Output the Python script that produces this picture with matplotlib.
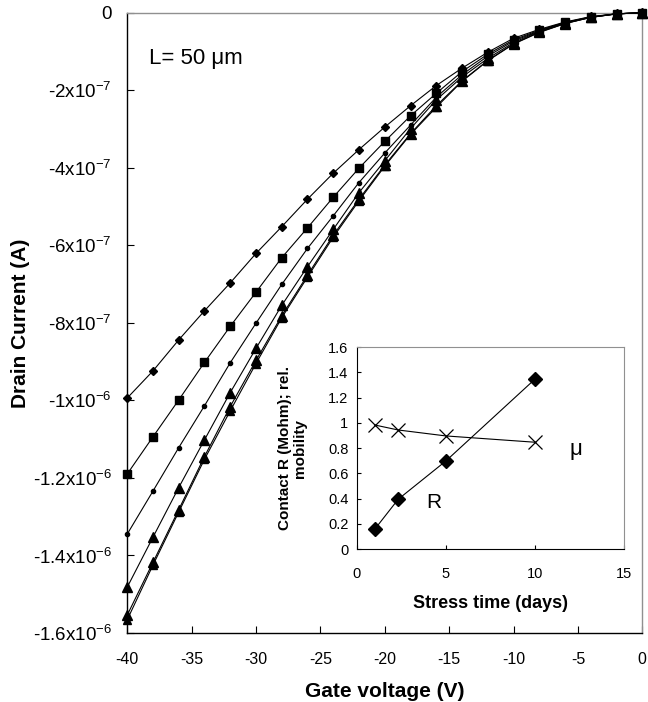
import matplotlib.pyplot as plt

plt.rcParams['font.family'] = ['Liberation Sans', 'DejaVu Sans']
plt.rcParams['mathtext.fontset'] = 'custom'
plt.rcParams['mathtext.rm'] = 'Liberation Sans'
plt.rcParams['mathtext.default'] = 'regular'
plt.rcParams['axes.unicode_minus'] = False

# gate voltage sweep, -40 V .. 0 V in 2 V steps
vg = [-40, -38, -36, -34, -32, -30, -28, -26, -24, -22, -20,
      -18, -16, -14, -12, -10, -8, -6, -4, -2, 0]

# drain current in units of 1e-6 A
id_diamond = [-0.994, -0.924, -0.844, -0.769, -0.697, -0.621, -0.552, -0.481, -0.414, -0.353, -0.295,
              -0.240, -0.188, -0.143, -0.102, -0.066, -0.043, -0.024, -0.010, -0.003, 0.0]
id_square = [-1.190, -1.094, -0.999, -0.902, -0.809, -0.721, -0.632, -0.555, -0.476, -0.401, -0.332,
             -0.266, -0.208, -0.152, -0.107, -0.070, -0.045, -0.025, -0.011, -0.003, 0.0]
id_dot = [-1.345, -1.234, -1.122, -1.014, -0.903, -0.801, -0.701, -0.608, -0.524, -0.438, -0.362,
          -0.290, -0.218, -0.160, -0.112, -0.073, -0.047, -0.026, -0.011, -0.003, 0.0]
id_tri1 = [-1.482, -1.353, -1.225, -1.102, -0.980, -0.866, -0.755, -0.655, -0.559, -0.464, -0.382,
           -0.299, -0.225, -0.166, -0.118, -0.077, -0.048, -0.027, -0.012, -0.003, 0.0]
id_tri2 = [-1.554, -1.418, -1.282, -1.145, -1.016, -0.897, -0.782, -0.677, -0.574, -0.481, -0.393,
           -0.312, -0.240, -0.176, -0.123, -0.080, -0.050, -0.028, -0.012, -0.003, 0.0]
id_tri3 = [-1.566, -1.425, -1.288, -1.152, -1.027, -0.905, -0.787, -0.682, -0.579, -0.485, -0.396,
           -0.314, -0.244, -0.177, -0.124, -0.081, -0.051, -0.028, -0.012, -0.003, 0.0]

# inset: contact resistance and relative mobility vs stress time
stress_days = [1, 2.33, 5, 10]
contact_r = [0.155, 0.395, 0.698, 1.347]
rel_mobility = [0.984, 0.944, 0.897, 0.847]

ytick_vals = [0, -2e-7, -4e-7, -6e-7, -8e-7, -1e-6, -1.2e-6, -1.4e-6, -1.6e-6]
ytick_labels = ['0', '-2x10$^{-7}$', '-4x10$^{-7}$', '-6x10$^{-7}$', '-8x10$^{-7}$',
                '-1x10$^{-6}$', '-1.2x10$^{-6}$', '-1.4x10$^{-6}$', '-1.6x10$^{-6}$']
xtick_vals = [-40, -35, -30, -25, -20, -15, -10, -5, 0]

fig = plt.figure(figsize=(6.48, 7.02), dpi=100)
ax = fig.add_axes([0.1963, 0.0983, 0.7949, 0.8836])

series = [(id_diamond, 'D', 4.5), (id_square, 's', 5.5), (id_dot, 'o', 3.0),
          (id_tri1, '^', 6.5), (id_tri2, '^', 6.5), (id_tri3, '^', 6.0)]
for vals, mk, ms in series:
    ax.plot(vg, [v * 1e-6 for v in vals], color='black', lw=0.8,
            marker=mk, ms=ms, mfc='black', mec='black', clip_on=False, zorder=3)

ax.set_xlim(-40, 0)
ax.set_ylim(-1.6e-6, 0)
ax.set_yticks(ytick_vals)
ax.set_yticklabels(ytick_labels, fontsize=13.5)
ax.set_xticks(xtick_vals)
ax.set_xticklabels([str(x) for x in xtick_vals], fontsize=11.5)
ax.tick_params(direction='in', length=5, width=0.8, color='black')
ax.tick_params(axis='x', pad=14)
ax.tick_params(axis='y', pad=11)
ax.spines['left'].set_color('black')
ax.spines['bottom'].set_color('black')
ax.spines['top'].set_color('#909090')
ax.spines['right'].set_color('#909090')
for s in ax.spines.values():
    s.set_linewidth(1.0)

ax.set_xlabel('Gate voltage (V)', fontsize=15, fontweight='bold', va='center')
ax.xaxis.set_label_coords(0.5, -0.095)
ax.set_ylabel('Drain Current (A)', fontsize=15, fontweight='bold', va='center')
ax.yaxis.set_label_coords(-0.208, 0.5)
ax.text(-38.3, -1.17e-7, 'L= 50 \u03bcm', fontsize=16, va='center')

# inset
ins = fig.add_axes([0.5505, 0.2179, 0.4125, 0.2874])
ins.plot(stress_days, contact_r, color='black', lw=0.8, marker='D', ms=7,
         mfc='black', mec='black')
ins.plot(stress_days, rel_mobility, color='black', lw=0.8, marker='x', ms=9.5,
         mew=0.9)
ins.set_xlim(0, 15)
ins.set_ylim(0, 1.6)
ins.set_xticks([0, 5, 10, 15])
ins.set_yticks([0, 0.2, 0.4, 0.6, 0.8, 1.0, 1.2, 1.4, 1.6])
ins.set_yticklabels(['0', '0.2', '0.4', '0.6', '0.8', '1', '1.2', '1.4', '1.6'])
ins.tick_params(direction='in', length=3, width=0.8, labelsize=10.5)
ins.tick_params(axis='x', pad=13)
ins.tick_params(axis='y', pad=6)
ins.spines['top'].set_color('#909090')
ins.spines['right'].set_color('#909090')
ins.set_xlabel('Stress time (days)', fontsize=13, fontweight='bold', labelpad=10)
ins.set_ylabel('Contact R (Mohm); rel.\nmobility', fontsize=11, fontweight='bold',
               linespacing=1.15, labelpad=15)
ins.text(4.3, 0.37, 'R', fontsize=15, va='center', ha='center')
ins.text(12.3, 0.79, '\u03bc', fontsize=16, va='center', ha='center')

fig.savefig('out.png', dpi=100)
